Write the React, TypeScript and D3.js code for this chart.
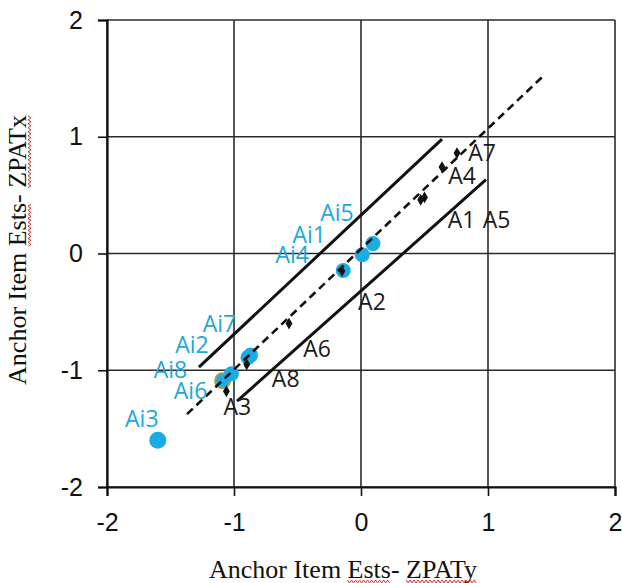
import * as d3 from 'd3';
import { useEffect, useRef } from 'react';

// anchor item estimates (blue, Ai*)
const itemNames = ['Ai1', 'Ai2', 'Ai3', 'Ai4', 'Ai5', 'Ai6', 'Ai7', 'Ai8'];
const itemX = [0.01, -0.89, -1.6, -0.14, 0.094, -1.09, -0.87, -1.02];
const itemY = [-0.01, -0.89, -1.6, -0.145, 0.085, -1.09, -0.87, -1.03];

// anchor estimates (black, A*)
const anchorNames = ['A1', 'A2', 'A3', 'A4', 'A5', 'A6', 'A7', 'A8'];
const anchorX = [0.47, -0.15, -1.06, 0.638, 0.5, -0.567, 0.756, -0.9];
const anchorY = [0.46, -0.15, -1.18, 0.74, 0.48, -0.6, 0.86, -0.95];

// reference lines (endpoints)
const identityX = [-1.37, 1.425];
const identityY = [-1.376, 1.51];
const upperX = [-1.276, 0.638];
const upperY = [-0.974, 0.98];
const lowerX = [-0.976, 0.984];
const lowerY = [-1.265, 0.632];

const tickValues = [-2, -1, 0, 1, 2];

// label placement, pixels from the point
const itemLabelDx = [-53, -56, -16, -51, -36, -32, -31, -61];
const itemLabelDy = [-21, -13, -22, -16, -32, 9, -32, -5];
const anchorLabelDx = [41, 30, 11, 20, 72, 28, 25, 39];
const anchorLabelDy = [19, 30, 15, 8, 22, 24, -1, 14];

const BLUE = '#1aace3';
const LABEL_BLUE = '#22a7d8';

const App = () => {
  const svgRef = useRef<SVGSVGElement>(null);
  const width = 622;
  const height = 583;

  useEffect(() => {
    const svg = d3.select(svgRef.current);
    svg.selectAll('*').remove();

    const x = d3.scaleLinear().domain([-2, 2]).range([107, 615]);
    const y = d3.scaleLinear().domain([-2, 2]).range([487, 20]);

    // grid
    const grid = svg.append('g').attr('stroke', '#2b2b2b').attr('stroke-width', 1.6);
    tickValues.forEach((t) => {
      grid.append('line').attr('x1', x(t)).attr('x2', x(t)).attr('y1', y(-2)).attr('y2', y(2));
      grid.append('line').attr('y1', y(t)).attr('y2', y(t)).attr('x1', x(-2)).attr('x2', x(2));
    });

    // axes
    const fmt = (d: any) => String(d);
    const gx = svg.append('g').attr('transform', `translate(0, ${y(-2)})`);
    gx.call(d3.axisBottom(x).tickValues(tickValues).tickSize(9).tickPadding(17).tickFormat(fmt));
    const gy = svg.append('g').attr('transform', `translate(${x(-2)}, 0)`);
    gy.call(d3.axisLeft(y).tickValues(tickValues).tickSize(9).tickPadding(15).tickFormat(fmt));
    [gx, gy].forEach((g) => {
      g.select('.domain').attr('stroke', '#111').attr('stroke-width', 2.2);
      g.selectAll('.tick line').attr('stroke', '#111').attr('stroke-width', 1.6);
      g.selectAll('.tick text')
        .attr('font-family', '"Liberation Sans", Arial, sans-serif')
        .attr('font-size', 25)
        .attr('fill', '#111');
    });
    gx.selectAll('.tick text').attr('dy', '0.71em');

    // blue points
    svg
      .append('g')
      .selectAll('circle')
      .data(itemNames)
      .join('circle')
      .attr('cx', (_, i) => x(itemX[i]))
      .attr('cy', (_, i) => y(itemY[i]))
      .attr('r', (d) => (d === 'Ai3' ? 8.5 : 7.5))
      .attr('fill', BLUE)
      .attr('stroke', (d) => (d === 'Ai6' ? '#b49a3a' : 'none'))
      .attr('stroke-width', 2);

    const line = d3
      .line<number>()
      .x((d) => d[0])
      .y((d) => d[1]);
    const seg = (xs: number[], ys: number[]) => line(xs.map((v, i) => [x(v), y(ys[i])] as any));

    svg
      .append('path')
      .attr('d', seg(upperX, upperY))
      .attr('fill', 'none')
      .attr('stroke', '#111')
      .attr('stroke-width', 3);
    svg
      .append('path')
      .attr('d', seg(lowerX, lowerY))
      .attr('fill', 'none')
      .attr('stroke', '#111')
      .attr('stroke-width', 3);
    svg
      .append('path')
      .attr('d', seg(identityX, identityY))
      .attr('fill', 'none')
      .attr('stroke', '#111')
      .attr('stroke-width', 2.6)
      .attr('stroke-dasharray', '8,5');

    // black markers
    const diamond = d3.symbol().type(d3.symbolDiamond).size(40);
    svg
      .append('g')
      .selectAll('path')
      .data(anchorNames)
      .join('path')
      .attr('d', diamond)
      .attr('transform', (_, i) => `translate(${x(anchorX[i])}, ${y(anchorY[i])})`)
      .attr('fill', '#111');

    // labels
    const labelFont = '"Open Sans", "Noto Sans", sans-serif';
    svg
      .append('g')
      .selectAll('text')
      .data(itemNames)
      .join('text')
      .attr('x', (_, i) => x(itemX[i]) + itemLabelDx[i])
      .attr('y', (_, i) => y(itemY[i]) + itemLabelDy[i])
      .attr('text-anchor', 'middle')
      .attr('dominant-baseline', 'central')
      .attr('font-family', labelFont)
      .attr('font-size', 23)
      .attr('fill', LABEL_BLUE)
      .text((d) => d);
    svg
      .append('g')
      .selectAll('text')
      .data(anchorNames)
      .join('text')
      .attr('x', (_, i) => x(anchorX[i]) + anchorLabelDx[i])
      .attr('y', (_, i) => y(anchorY[i]) + anchorLabelDy[i])
      .attr('text-anchor', 'middle')
      .attr('dominant-baseline', 'central')
      .attr('font-family', labelFont)
      .attr('font-size', 23)
      .attr('fill', '#1a1a1a')
      .text((d) => d);

    // axis titles with spell-check squiggles
    const squiggle = (g: any, x0: number, x1: number, yy: number) => {
      const pts: [number, number][] = [];
      for (let px = x0, k = 0; px <= x1; px += 2, k++) pts.push([px, yy + (k % 2 ? 1.5 : -1.5)]);
      g.append('path')
        .attr('d', d3.line()(pts))
        .attr('fill', 'none')
        .attr('stroke', '#e0302a')
        .attr('stroke-width', 1);
    };
    const title = (label: string, tx: number, ty: number, angle: number, marks: string[]) => {
      const g = svg.append('g').attr('transform', `translate(${tx}, ${ty}) rotate(${angle})`);
      const t = g
        .append('text')
        .attr('font-family', '"Liberation Serif", "Times New Roman", serif')
        .attr('font-size', 26)
        .attr('fill', '#111')
        .text(label);
      const node = t.node() as SVGTextElement;
      const w = node.getComputedTextLength();
      t.attr('x', -w / 2);
      marks.forEach((m) => {
        const start = label.indexOf(m);
        const off = start > 0 ? node.getSubStringLength(0, start) : 0;
        const len = node.getSubStringLength(start, m.length);
        squiggle(g, -w / 2 + off, -w / 2 + off + len, 3.5);
      });
    };
    title('Anchor Item Ests- ZPATy', 343, 578, 0, ['Ests', 'ZPATy']);
    title('Anchor Item Ests- ZPATx', 26, 250, -90, ['Ests', 'ZPATx']);
  }, []);

  return (
    <div style={{ position: 'absolute', left: 0, top: 0 }}>
      <svg ref={svgRef} width={width} height={height} style={{ display: 'block', background: '#fff' }}></svg>
    </div>
  );
};

export default App;
